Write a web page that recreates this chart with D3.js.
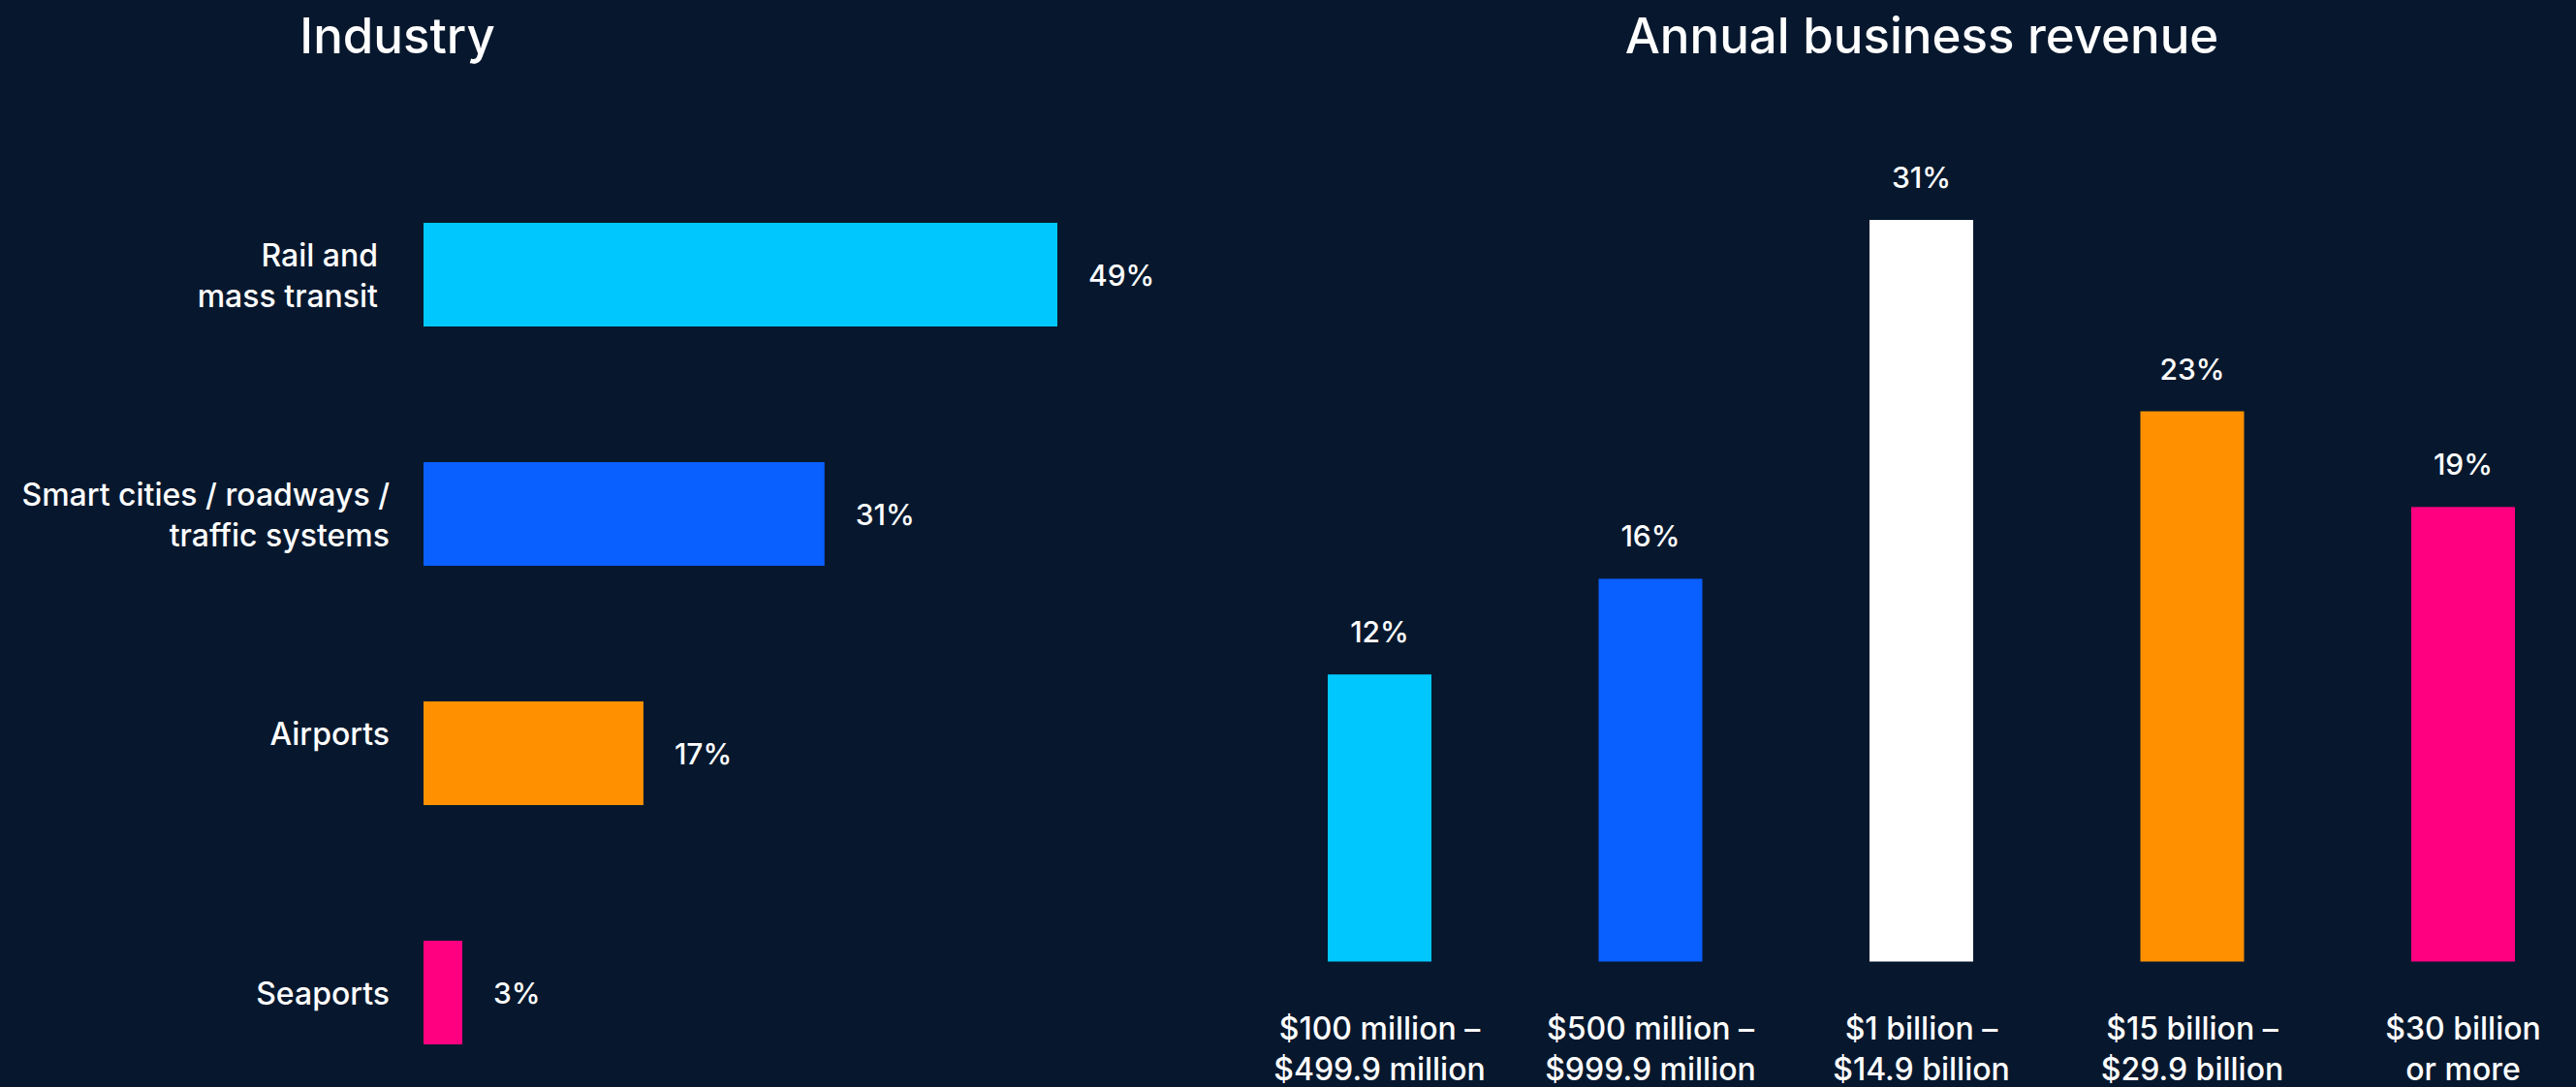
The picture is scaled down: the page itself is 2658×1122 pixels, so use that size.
<!DOCTYPE html>
<html>
<head>
<meta charset="utf-8">
<script src="https://cdn.jsdelivr.net/npm/d3@7"></script>
<style>
  html, body { margin: 0; padding: 0; background: #07182E; }
  svg { display: block; }
  text { font-family: Inter, "Noto Sans", sans-serif; fill: #ffffff; }
</style>
</head>
<body>
<svg id="chart" width="2658" height="1122"></svg>
<script>
// ---- Data ----
const industryTitle = "Industry";
const industryLabels = [
  ["Rail and", "mass transit"],
  ["Smart cities / roadways /", "traffic systems"],
  ["Airports", ""],
  ["Seaports"]
];
const industryKeys = ["Rail and mass transit", "Smart cities / roadways / traffic systems", "Airports", "Seaports"];
const industryValues = [49, 31, 17, 3];
const industryColors = ["#00C8FF", "#0A5FFF", "#FF9100", "#FF0080"];

const revenueTitle = "Annual business revenue";
const revenueLabels = [
  ["$100 million –", "$499.9 million"],
  ["$500 million –", "$999.9 million"],
  ["$1 billion –", "$14.9 billion"],
  ["$15 billion –", "$29.9 billion"],
  ["$30 billion", "or more"]
];
const revenueKeys = ["r1", "r2", "r3", "r4", "r5"];
const revenueValues = [12, 16, 31, 23, 19];
const revenueColors = ["#00C8FF", "#0A5FFF", "#FFFFFF", "#FF9100", "#FF0080"];

// ---- Drawing ----
const svg = d3.select("#chart");
const FS = 30, LFS = 32, LH = 42;

// Left: horizontal bars
const xL = d3.scaleLinear().domain([0, 49]).range([437, 1091]);
const yL = d3.scaleBand().domain(industryKeys).range([230, 1078]).paddingInner(140 / 247).paddingOuter(0);

svg.append("text").attr("x", 410).attr("y", 55).attr("text-anchor", "middle")
  .style("font-size", "51px").style("font-weight", 500).text(industryTitle);

const gL = svg.append("g");
gL.selectAll("rect").data(industryValues).join("rect")
  .attr("x", xL(0))
  .attr("y", (d, i) => yL(industryKeys[i]))
  .attr("width", d => xL(d) - xL(0))
  .attr("height", yL.bandwidth())
  .attr("fill", (d, i) => industryColors[i]);

gL.selectAll("text.val").data(industryValues).join("text").attr("class", "val")
  .attr("x", d => xL(d) + 32)
  .attr("y", (d, i) => yL(industryKeys[i]) + yL.bandwidth() / 2 + 11)
  .style("font-size", FS + "px").style("font-weight", 500)
  .text(d => d + "%");

industryLabels.forEach((lines, i) => {
  const cy = yL(industryKeys[i]) + yL.bandwidth() / 2;
  const n = lines.length;
  const t = gL.append("text").attr("text-anchor", "end")
    .style("font-size", LFS + "px").style("font-weight", 500);
  lines.forEach((ln, j) => {
    t.append("tspan").attr("x", i === 0 ? 390 : 402)
      .attr("y", cy + (j - (n - 1) / 2) * LH + 12)
      .text(ln);
  });
});

// Right: vertical bars
const xR = d3.scaleBand().domain(revenueKeys).range([1370, 2595]).paddingInner(1 - 107 / 279.5).paddingOuter(0);
const yR = d3.scaleLinear().domain([0, 31]).range([992.5, 227]);

svg.append("text").attr("x", 1983).attr("y", 55).attr("text-anchor", "middle")
  .style("font-size", "51px").style("font-weight", 500).text(revenueTitle);

const gR = svg.append("g");
gR.selectAll("rect").data(revenueValues).join("rect")
  .attr("x", (d, i) => xR(revenueKeys[i]))
  .attr("y", d => yR(d))
  .attr("width", xR.bandwidth())
  .attr("height", d => yR(0) - yR(d))
  .attr("fill", (d, i) => revenueColors[i]);

gR.selectAll("text.val").data(revenueValues).join("text").attr("class", "val")
  .attr("x", (d, i) => xR(revenueKeys[i]) + xR.bandwidth() / 2)
  .attr("y", d => yR(d) - 33)
  .attr("text-anchor", "middle")
  .style("font-size", FS + "px").style("font-weight", 500)
  .text(d => d + "%");

revenueLabels.forEach((lines, i) => {
  const cx = xR(revenueKeys[i]) + xR.bandwidth() / 2;
  const t = gR.append("text").attr("text-anchor", "middle")
    .style("font-size", LFS + "px").style("font-weight", 500);
  lines.forEach((ln, j) => {
    t.append("tspan").attr("x", cx).attr("y", 1073 + j * LH).text(ln);
  });
});
</script>
</body>
</html>
